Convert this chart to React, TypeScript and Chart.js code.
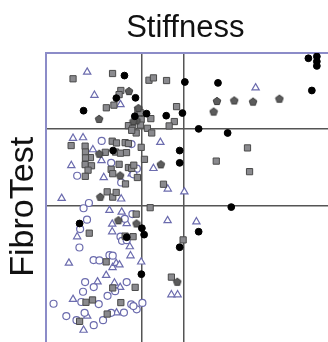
import React, { useEffect, useRef } from "react";
import { Chart, registerables } from "chart.js";

Chart.register(...registerables);

// Axis cut-offs (reference lines)
const stiffnessCutoffs = [7.1, 9.5];
const fibroTestCutoffs = [0.48, 0.74];

// Open triangles
const triangleStiffness = [3.91, 4.33, 3.09, 3.67, 8.15, 4.24, 4.74, 2.99, 4.87, 7.75, 8.58, 9.54, 2.43, 5.2, 5.91, 5.88, 8.57, 10.24, 5.36, 6.2, 5.36, 3.33, 6.38, 6.42, 2.85, 5.38, 5.59, 5.78, 7.04, 5.01, 4.51, 5.49, 5.82, 3.09, 3.91, 5.61, 3.7, 8.79, 9.15, 13.67, 5.84, 6.49];
const triangleFibroTest = [0.935, 0.856, 0.709, 0.711, 0.695, 0.67, 0.633, 0.616, 0.575, 0.606, 0.536, 0.526, 0.504, 0.463, 0.457, 0.502, 0.428, 0.424, 0.416, 0.418, 0.39, 0.373, 0.339, 0.308, 0.283, 0.268, 0.282, 0.277, 0.287, 0.241, 0.219, 0.215, 0.2, 0.159, 0.102, 0.113, 0.054, 0.175, 0.175, 0.881, 0.824, 0.588];

// Open circles
const circleStiffness = [4.75, 6.48, 5.3, 3.33, 6.79, 6.59, 5.88, 4.01, 3.7, 3.9, 6.09, 6.53, 3.5, 5.84, 5.93, 6.2, 3.46, 5.2, 5.39, 4.28, 4.62, 3.79, 6.2, 4.29, 5.53, 3.67, 5.09, 1.96, 3.57, 4.58, 6.46, 7.11, 6.78, 6.59, 6.04, 2.7, 3.29, 3.76, 4.29, 4.83, 5.3];
const circleFibroTest = [0.7, 0.689, 0.625, 0.581, 0.605, 0.586, 0.558, 0.488, 0.47, 0.431, 0.434, 0.45, 0.399, 0.373, 0.359, 0.361, 0.336, 0.31, 0.308, 0.293, 0.292, 0.218, 0.218, 0.201, 0.187, 0.185, 0.171, 0.144, 0.15, 0.143, 0.142, 0.147, 0.125, 0.136, 0.114, 0.102, 0.088, 0.113, 0.071, 0.088, 0.113];

// Grey squares
const squareStiffness = [3.09, 5.38, 7.49, 7.75, 8.51, 5.86, 5.76, 5.46, 5.02, 6.85, 6.98, 7.6, 7.04, 9.09, 8.96, 8.66, 6.3, 6.55, 6.75, 7.0, 7.4, 7.65, 6.49, 5.36, 5.61, 6.11, 6.3, 7.04, 2.98, 3.79, 3.81, 4.96, 5.55, 5.84, 6.19, 4.1, 3.81, 3.79, 4.16, 3.96, 5.3, 5.76, 6.3, 6.49, 6.61, 6.82, 7.23, 3.8, 5.39, 6.13, 8.33, 5.07, 5.39, 5.59, 7.56, 6.75, 4.03, 6.57, 6.11, 9.47, 5.01, 6.69, 5.39, 8.79, 3.84, 4.22, 5.86, 3.47, 5.07, 11.39, 13.2, 13.32];
const squareFibroTest = [0.912, 0.93, 0.907, 0.915, 0.906, 0.872, 0.858, 0.822, 0.813, 0.805, 0.797, 0.776, 0.773, 0.817, 0.766, 0.751, 0.752, 0.743, 0.727, 0.754, 0.743, 0.727, 0.736, 0.699, 0.693, 0.694, 0.691, 0.678, 0.684, 0.682, 0.662, 0.661, 0.662, 0.658, 0.66, 0.643, 0.642, 0.619, 0.615, 0.6, 0.603, 0.62, 0.609, 0.606, 0.617, 0.575, 0.637, 0.579, 0.588, 0.553, 0.552, 0.526, 0.508, 0.524, 0.472, 0.45, 0.385, 0.373, 0.375, 0.362, 0.287, 0.2, 0.198, 0.235, 0.149, 0.157, 0.148, 0.084, 0.109, 0.631, 0.676, 0.595];

// Dark pentagons
const pentagonStiffness = [6.33, 4.6, 6.88, 6.77, 6.59, 4.61, 5.82, 8.18, 4.67, 5.72, 6.77, 9.13, 11.43, 12.43, 13.52, 15.05, 11.24];
const pentagonFibroTest = [0.87, 0.775, 0.812, 0.77, 0.767, 0.656, 0.582, 0.62, 0.509, 0.429, 0.418, 0.219, 0.836, 0.838, 0.834, 0.844, 0.8];

// Black circles
const dotStiffness = [6.07, 9.57, 5.6, 6.71, 3.7, 7.35, 6.67, 8.49, 9.43, 5.41, 9.27, 9.27, 3.47, 7.08, 7.21, 6.2, 9.27, 7.05, 16.73, 17.22, 17.22, 17.22, 11.49, 16.93, 10.37, 12.05, 12.26, 10.37];
const dotFibroTest = [0.923, 0.901, 0.846, 0.847, 0.803, 0.793, 0.784, 0.786, 0.795, 0.667, 0.667, 0.625, 0.418, 0.402, 0.38, 0.371, 0.337, 0.245, 0.982, 0.988, 0.971, 0.956, 0.898, 0.872, 0.741, 0.727, 0.474, 0.39];

const toPoints = (xs: number[], ys: number[]) => xs.map((x, i) => ({ x, y: ys[i] }));

function makePentagon(): HTMLCanvasElement {
  const c = document.createElement("canvas");
  c.width = 10;
  c.height = 10;
  const ctx = c.getContext("2d")!;
  ctx.beginPath();
  for (let i = 0; i < 5; i++) {
    const a = -Math.PI / 2 + (i * 2 * Math.PI) / 5;
    const px = 5 + 4 * Math.cos(a);
    const py = 5.3 + 4 * Math.sin(a);
    if (i === 0) ctx.moveTo(px, py);
    else ctx.lineTo(px, py);
  }
  ctx.closePath();
  ctx.fillStyle = "#5c5c5c";
  ctx.fill();
  ctx.strokeStyle = "#3a3a3a";
  ctx.lineWidth = 1;
  ctx.stroke();
  return c;
}

const FONT = "'Liberation Sans', Arial, Helvetica, sans-serif";

export default function App() {
  const ref = useRef<HTMLCanvasElement>(null);

  useEffect(() => {
    if (!ref.current) return;
    const pentagon = makePentagon();
    const gridOpts = { color: "#555555", lineWidth: 1.5, drawTicks: false };
    const borderOpts = { display: true, color: "#8c8cc8", width: 2 };
    const chart = new Chart(ref.current, {
      type: "scatter",
      data: {
        datasets: [
          {
            label: "black",
            data: toPoints(dotStiffness, dotFibroTest),
            pointStyle: "circle",
            pointRadius: 3.4,
            backgroundColor: "#000000",
            borderColor: "#000000",
            borderWidth: 1,
          },
          {
            label: "pentagon",
            data: toPoints(pentagonStiffness, pentagonFibroTest),
            pointStyle: pentagon,
            pointRadius: 4,
          },
          {
            label: "square",
            data: toPoints(squareStiffness, squareFibroTest),
            pointStyle: "rect",
            pointRadius: 4.4,
            backgroundColor: "#8a8a8e",
            borderColor: "#4a4a4a",
            borderWidth: 1,
          },
          {
            label: "circle",
            data: toPoints(circleStiffness, circleFibroTest),
            pointStyle: "circle",
            pointRadius: 3.5,
            backgroundColor: "#ffffff",
            borderColor: "#6c6cae",
            borderWidth: 1.2,
          },
          {
            label: "triangle",
            data: toPoints(triangleStiffness, triangleFibroTest),
            pointStyle: "triangle",
            pointRadius: 4.2,
            backgroundColor: "#ffffff",
            borderColor: "#6c6cae",
            borderWidth: 1.2,
          },
        ],
      },
      options: {
        animation: false,
        responsive: false,
        layout: { padding: { left: 0.6, right: 6, top: 0, bottom: 1 } },
        plugins: {
          legend: { display: false },
          tooltip: { enabled: false },
          title: {
            display: true,
            text: "Stiffness",
            color: "#111111",
            font: { family: FONT, size: 31, weight: "normal", lineHeight: 1.2 },
            padding: { top: 10, bottom: 5.8 },
          },
        },
        scales: {
          x: {
            type: "linear",
            position: "top",
            min: 1.5,
            max: 20.3,
            ticks: { display: false },
            grid: gridOpts,
            border: borderOpts,
            afterBuildTicks: (s: any) => {
              s.ticks = stiffnessCutoffs.map((v) => ({ value: v }));
            },
          },
          y: {
            type: "linear",
            position: "left",
            min: -0.05,
            max: 1,
            ticks: { display: false },
            grid: gridOpts,
            border: borderOpts,
            title: {
              display: true,
              text: "FibroTest",
              color: "#111111",
              font: { family: FONT, size: 34, weight: "normal", lineHeight: 1.1 },
              padding: { top: 4, bottom: 3.6 },
            },
            afterBuildTicks: (s: any) => {
              s.ticks = fibroTestCutoffs.map((v) => ({ value: v }));
            },
          },
        },
      },
    } as any);
    return () => chart.destroy();
  }, []);

  return (
    <div
      style={{
        position: "fixed",
        left: 0,
        top: 0,
        width: 328,
        height: 342,
        overflow: "hidden",
        background: "#ffffff",
      }}
    >
      <canvas ref={ref} width={376} height={366} style={{ display: "block" }} />
    </div>
  );
}
